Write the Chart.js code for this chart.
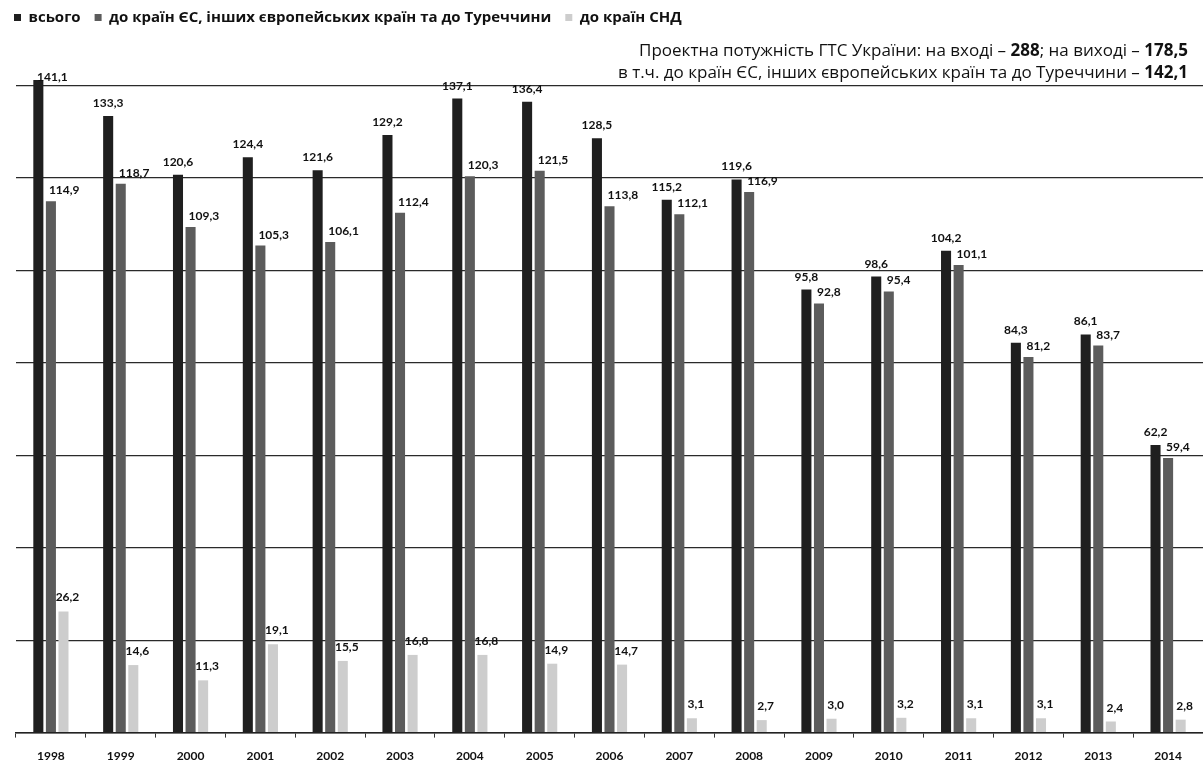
<!DOCTYPE html>
<html lang="uk">
<head>
<meta charset="utf-8">
<title>Транзит природного газу</title>
<script src="https://cdn.jsdelivr.net/npm/chart.js@4.4.1/dist/chart.umd.min.js"></script>
<style>
  html, body { margin: 0; padding: 0; background: #fff; overflow: hidden; }
  #wrap { width: 1203px; height: 765px; }
</style>
</head>
<body>
<div id="wrap"><canvas id="chart" width="1203" height="765"></canvas></div>
<script>
  // Data
  const years = ["1998", "1999", "2000", "2001", "2002", "2003", "2004", "2005", "2006",
                 "2007", "2008", "2009", "2010", "2011", "2012", "2013", "2014"];
  const total = [141.1, 133.3, 120.6, 124.4, 121.6, 129.2, 137.1, 136.4, 128.5,
                 115.2, 119.6, 95.8, 98.6, 104.2, 84.3, 86.1, 62.2];
  const toEurope = [114.9, 118.7, 109.3, 105.3, 106.1, 112.4, 120.3, 121.5, 113.8,
                    112.1, 116.9, 92.8, 95.4, 101.1, 81.2, 83.7, 59.4];
  const toCis = [26.2, 14.6, 11.3, 19.1, 15.5, 16.8, 16.8, 14.9, 14.7,
                 3.1, 2.7, 3.0, 3.2, 3.1, 3.1, 2.4, 2.8];
  const seriesNames = ["всього", "до країн ЄС, інших європейських країн та до Туреччини", "до країн СНД"];
  const gridStep = 20;
  const gridTop = 140;

  const noteLines = [
    [["Проектна потужність ГТС України: на вході – ", false], ["288", true], ["; на виході – ", false], ["178,5", true]],
    [["в т.ч. до країн ЄС, інших європейських країн та до Туреччини – ", false], ["142,1", true]]
  ];

  Chart.defaults.font.family = "Lato";
  Chart.defaults.color = "#111";

  const fmt = v => v.toFixed(1).replace(".", ",");

  // value labels over the bars
  const valueLabels = {
    id: "valueLabels",
    afterDatasetsDraw(chart) {
      const ctx = chart.ctx;
      ctx.save();
      ctx.font = "bold 12px Lato";
      ctx.fillStyle = "#111";
      ctx.textBaseline = "alphabetic";
      chart.data.datasets.forEach((ds, di) => {
        const meta = chart.getDatasetMeta(di);
        meta.data.forEach((bar, i) => {
          let x = bar.x;
          let y = bar.y - 9;
          if (di === 0) {
            ctx.textAlign = "center";
            if (i === 0) { x += 14; y = bar.y + 1; }
          } else if (di === 1) {
            ctx.textAlign = "left";
            x -= 2;
            y = bar.y - 7;
          } else {
            ctx.textAlign = "center";
            x += 4;
            y = bar.y - 10;
          }
          ctx.fillText(fmt(ds.data[i]), x, y);
        });
      });
      ctx.restore();
    }
  };

  // capacity note, right aligned, with bold numbers
  const capacityNote = {
    id: "capacityNote",
    afterDraw(chart) {
      const ctx = chart.ctx;
      const right = 1188;
      const baselines = [56, 78];
      ctx.save();
      ctx.fillStyle = "#111";
      ctx.textBaseline = "alphabetic";
      ctx.textAlign = "left";
      noteLines.forEach((parts, li) => {
        let width = 0;
        parts.forEach(([t, b]) => {
          ctx.font = (b ? "bold " : "") + "17px 'Open Sans'";
          width += ctx.measureText(t).width;
        });
        let x = right - width;
        parts.forEach(([t, b]) => {
          ctx.font = (b ? "bold " : "") + "17px 'Open Sans'";
          ctx.fillText(t, x, baselines[li]);
          x += ctx.measureText(t).width;
        });
      });
      ctx.restore();
    }
  };

  const ctx = document.getElementById("chart").getContext("2d");
  new Chart(ctx, {
    type: "bar",
    data: {
      labels: years,
      datasets: [
        { label: seriesNames[0], data: total, backgroundColor: "#1f1f1f" },
        { label: seriesNames[1], data: toEurope, backgroundColor: "#5c5c5c" },
        { label: seriesNames[2], data: toCis, backgroundColor: "#cdcdcd" }
      ]
    },
    options: {
      responsive: false,
      animation: false,
      layout: { padding: { top: -4, right: 0, bottom: -9, left: 0 } },
      datasets: {
        bar: {
          categoryPercentage: 0.54,
          barPercentage: 0.8,
          borderWidth: 0,
          clip: false
        }
      },
      plugins: {
        legend: {
          position: "top",
          align: "start",
          labels: {
            boxWidth: 7,
            boxHeight: 7,
            padding: 14,
            color: "#111",
            font: { family: "'Open Sans'", size: 15, weight: "bold" }
          }
        },
        tooltip: { enabled: false }
      },
      scales: {
        x: {
          grid: {
            offset: true,
            drawOnChartArea: false,
            drawTicks: true,
            tickLength: 5,
            color: "#333"
          },
          border: { display: true, color: "#222", width: 1.5 },
          ticks: {
            padding: 11,
            color: "#111",
            font: { size: 12, weight: "bold" }
          }
        },
        y: {
          min: 0,
          max: 150.84,
          ticks: { display: false, stepSize: gridStep },
          grid: { color: "#2a2a2a", lineWidth: 1.2, drawTicks: false },
          border: { display: false },
          afterBuildTicks(scale) {
            scale.ticks = scale.ticks.filter(t => t.value <= gridTop);
          },
          afterFit(scale) {
            scale.width = 16;
          }
        }
      }
    },
    plugins: [valueLabels, capacityNote]
  });
</script>
</body>
</html>
